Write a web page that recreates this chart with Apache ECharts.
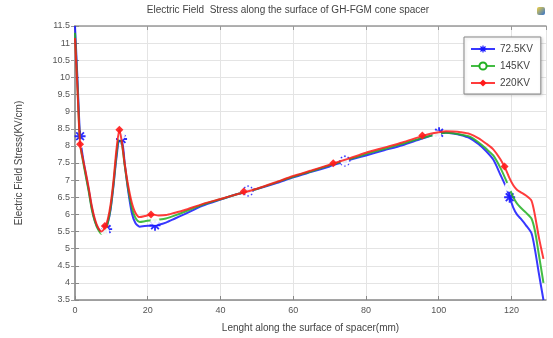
<!DOCTYPE html>
<html><head><meta charset="utf-8">
<script src="https://cdn.jsdelivr.net/npm/echarts@6/dist/echarts.min.js"></script>
<style>html,body{margin:0;padding:0;background:#fff}#c{width:553px;height:338px}</style>
</head><body><div id="c"></div>
<script>
var titleText = 'Electric Field  Stress along the surface of GH-FGM cone spacer';
var xTitle = 'Lenght along the surface of spacer(mm)';
var yTitle = 'Electric Field Stress(KV/cm)';
var seriesNames = ['72.5KV', '145KV', '220KV'];

var xs = [0, 0.7, 1.4, 2.2, 3, 3.8, 4.6, 5.5, 6.4, 7.3, 8.2, 9, 9.8, 10.6, 11.4, 12.2, 12.9, 13.7, 14.6, 15.6, 16.6, 17.8, 19.2, 21, 23, 25, 27.5, 30, 35, 40, 45, 50, 55, 60, 65, 70, 75, 80, 85, 90, 95, 98, 100, 102, 104, 106, 108.5, 111, 113, 115, 117, 118.5, 119.5, 120.5, 121.5, 122.5, 124, 125.5, 126.5, 127.5, 128.8];

var y72 = [11.5, 9.9, 8.28, 7.65, 7.15, 6.7, 6.2, 5.8, 5.58, 5.5, 5.55, 5.75, 6.15, 6.85, 7.65, 8.15, 8.15, 7.45, 6.7, 6.05, 5.75, 5.64, 5.66, 5.67, 5.7, 5.76, 5.88, 6.0, 6.25, 6.43, 6.6, 6.74, 6.9, 7.08, 7.24, 7.4, 7.57, 7.72, 7.87, 8.02, 8.2, 8.3, 8.37, 8.38, 8.36, 8.32, 8.23, 8.05, 7.85, 7.6, 7.15, 6.8, 6.5, 6.2, 6.0, 5.88, 5.68, 5.45, 4.95, 4.3, 3.5];
var y145 = [11.3, 9.7, 8.08, 7.55, 7.1, 6.65, 6.15, 5.78, 5.55, 5.43, 5.48, 5.75, 6.2, 6.9, 7.75, 8.3, 8.05, 7.4, 6.75, 6.2, 5.9, 5.78, 5.8, 5.83, 5.85, 5.88, 5.97, 6.07, 6.28, 6.44, 6.6, 6.74, 6.92, 7.1, 7.26, 7.43, 7.59, 7.76, 7.91, 8.06, 8.22, 8.3, 8.35, 8.38, 8.37, 8.33, 8.27, 8.1, 7.92, 7.72, 7.35, 7.0, 6.75, 6.5, 6.32, 6.2, 6.05, 5.88, 5.5, 4.85, 4.0];
var y220 = [11.15, 9.6, 8.05, 7.6, 7.2, 6.75, 6.25, 5.85, 5.6, 5.5, 5.62, 5.85, 6.3, 7.0, 7.9, 8.47, 8.1, 7.45, 6.85, 6.35, 6.05, 5.92, 5.95, 6.0, 5.97, 5.98, 6.05, 6.12, 6.3, 6.45, 6.6, 6.75, 6.93, 7.12, 7.28, 7.45, 7.62, 7.8, 7.95, 8.1, 8.27, 8.36, 8.4, 8.43, 8.42, 8.4, 8.35, 8.22, 8.07, 7.9, 7.6, 7.3, 7.05, 6.85, 6.72, 6.65, 6.55, 6.4, 5.95, 5.35, 4.7];

var mx72 = [1.4, 8.7, 12.8, 22, 47.6, 74.2, 100.1, 119.5];
var my72 = [8.28, 5.57, 8.2, 5.68, 6.68, 7.56, 8.38, 6.5];
var mx145 = [1.4, 8.2, 12.5, 22, 47.6, 74.2, 99.5, 119.3];
var my145 = [8.06, 5.5, 8.3, 5.82, 6.68, 7.55, 8.32, 6.8];
var mx220 = [1.4, 8.2, 12.2, 20.9, 46.4, 71, 95.5, 118.1];
var my220 = [8.05, 5.66, 8.47, 6.0, 6.67, 7.49, 8.3, 7.4];

function pairs(a, b) { return a.map(function (v, i) { return [v, b[i]]; }); }

var asterisk = 'path://M-1,-6L1,-6L1,6L-1,6Z M-6,-1L6,-1L6,1L-6,1Z M-4.9,-3.5L-3.5,-4.9L4.9,3.5L3.5,4.9Z M3.5,-4.9L4.9,-3.5L-3.5,4.9L-4.9,3.5Z';
var colors = ['#1515ff', '#22b022', '#ff1a1a'];
var symbols = [asterisk, 'emptyCircle', 'diamond'];
var symSizes = [11, 7, 8];
var lineYs = [y72, y145, y220];
var mxs = [mx72, mx145, mx220];
var mys = [my72, my145, my220];

var font = 'Liberation Sans';
var series = [];
for (var i = 0; i < 3; i++) {
  series.push({
    name: seriesNames[i], type: 'line', data: pairs(xs, lineYs[i]),
    symbol: symbols[i], symbolSize: symSizes[i], showSymbol: false,
    smooth: 0.25, lineStyle: { color: colors[i], width: 2, opacity: 0.85 },
    itemStyle: { color: colors[i], borderWidth: i === 1 ? 1.5 : 0 },
    z: 3 + i, animation: false
  });
}
for (var j = 0; j < 3; j++) {
  series.push({
    name: seriesNames[j], type: 'scatter', data: pairs(mxs[j], mys[j]),
    symbol: symbols[j], symbolSize: symSizes[j],
    itemStyle: { color: j === 1 ? '#fff' : colors[j], borderColor: colors[j], borderWidth: j === 1 ? 1.5 : 0, opacity: 0.9 },
    z: 3 + j, animation: false, silent: true
  });
}

var chart = echarts.init(document.getElementById('c'), null, { renderer: 'canvas' });
chart.setOption({
  animation: false,
  backgroundColor: '#fff',
  title: { text: titleText, left: 283, top: 0, textAlign: 'center',
    textStyle: { fontFamily: font, fontSize: 10, fontWeight: 'normal', color: '#444' } },
  legend: {
    data: seriesNames, orient: 'vertical', left: 464, top: 37,
    itemWidth: 24, itemHeight: 9, itemGap: 7,
    padding: [7, 8, 6, 6],
    backgroundColor: '#fff', borderColor: '#888', borderWidth: 1,
    textStyle: { fontFamily: font, fontSize: 10, color: '#444' },
    shadowColor: 'rgba(0,0,0,0.15)', shadowBlur: 3, shadowOffsetX: 1, shadowOffsetY: 1
  },
  graphic: [{ type: 'rect', left: 537, top: 7, shape: { width: 8, height: 8, r: 2 },
    style: { fill: new echarts.graphic.LinearGradient(0, 0, 1, 1, [{ offset: 0, color: '#f0d040' }, { offset: 1, color: '#3070d0' }]) } }],
  grid: { left: 75, right: 7, top: 26, bottom: 38 },
  xAxis: [{
    type: 'value', min: 0, max: 129.5, interval: 20,
    name: xTitle, nameLocation: 'middle', nameGap: 23,
    nameTextStyle: { fontFamily: font, fontSize: 10, color: '#444' },
    axisLine: { show: true, lineStyle: { color: '#888', width: 1.5 } },
    axisTick: { show: true, inside: true, length: 4, lineStyle: { color: '#888' } },
    axisLabel: { fontFamily: font, fontSize: 9, color: '#555', margin: 6, showMaxLabel: false },
    splitLine: { show: true, lineStyle: { color: '#e4e4e4' } }
  }, {
    type: 'value', position: 'top', min: 0, max: 129.5, interval: 20,
    axisLine: { show: true, lineStyle: { color: '#999', width: 1.5 } },
    axisTick: { show: true, inside: true, length: 4, lineStyle: { color: '#999' } },
    axisLabel: { show: false }, splitLine: { show: false }
  }],
  yAxis: [{
    type: 'value', min: 3.5, max: 11.5, interval: 0.5,
    name: yTitle, nameLocation: 'middle', nameGap: 51, nameRotate: 90,
    nameTextStyle: { fontFamily: font, fontSize: 10, color: '#444' },
    axisLine: { show: true, lineStyle: { color: '#888', width: 1.5 } },
    axisTick: { show: true, inside: true, length: 4, lineStyle: { color: '#888' } },
    axisLabel: { fontFamily: font, fontSize: 9, color: '#555', margin: 5 },
    splitLine: { show: true, lineStyle: { color: '#e4e4e4' } }
  }, {
    type: 'value', position: 'right', min: 3.5, max: 11.5, interval: 0.5,
    axisLine: { show: true, lineStyle: { color: '#999', width: 1.5 } },
    axisTick: { show: true, inside: true, length: 4, lineStyle: { color: '#999' } },
    axisLabel: { show: false }, splitLine: { show: false }
  }],
  series: series
});
</script></body></html>
